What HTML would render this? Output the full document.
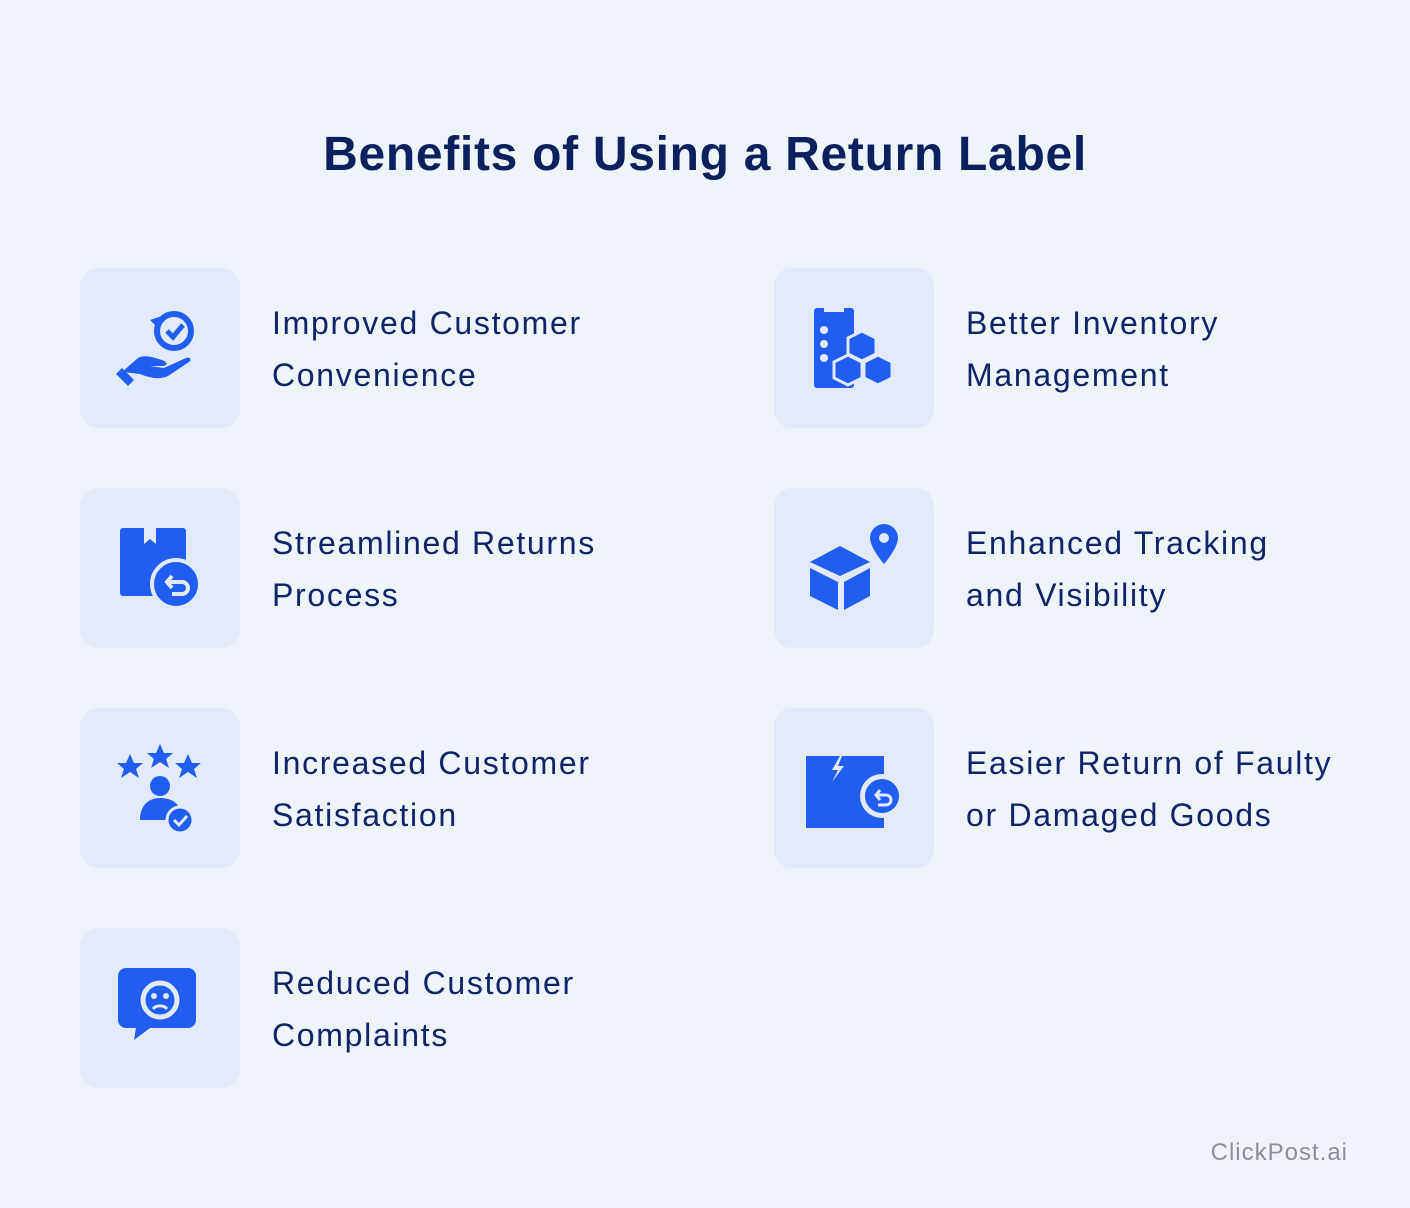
<!DOCTYPE html>
<html><head><style>
body{margin:0;width:1410px;height:1208px;background:#eff3fa;font-family:"Liberation Sans",sans-serif;position:relative;overflow:hidden}
h1{position:absolute;top:127px;left:0;width:1410px;text-align:center;margin:0;font-size:48px;font-weight:bold;color:#0c1f5e;letter-spacing:0.7px}
.card{position:absolute;width:160px;height:160px;border-radius:18px;background:#e2e9f8}
.card svg{position:absolute;left:30px;top:30px;width:100px;height:100px}
.t{position:absolute;font-size:32px;line-height:52px;color:#10246a;letter-spacing:1.7px}
.wm{position:absolute;right:62px;top:1139px;font-size:24px;color:#8a8f9c;letter-spacing:1px}
</style></head><body>
<h1>Benefits of Using a Return Label</h1>

<div class="card" style="left:80px;top:268px"><svg viewBox="0 0 100 100" fill="#1f5ef0">
<circle cx="64" cy="33" r="17" fill="none" stroke="#1f5ef0" stroke-width="6"/><path d="M40 22l12-4-4 12z"/><path d="M57 33l6 6 10-12" fill="none" stroke="#1f5ef0" stroke-width="5"/>
<path d="M12 74l16-14c8-4 16 0 24 2 6 2 6 6 0 6l-12 0 14 2 22-10c4-2 6 2 3 4L58 78c-8 4-18 2-28-2z"/><path d="M6 76l6-6 12 12-6 6z"/></svg></div>
<div class="t" style="left:272px;top:297px">Improved Customer<br>Convenience</div>

<div class="card" style="left:774px;top:268px"><svg viewBox="0 0 100 100" fill="#1f5ef0">
<rect x="10" y="10" width="40" height="80" rx="3"/><rect x="20" y="6" width="20" height="8" fill="#e2e9f8"/>
<circle cx="20" cy="32" r="4" fill="#e2e9f8"/><circle cx="20" cy="46" r="4" fill="#e2e9f8"/><circle cx="20" cy="60" r="4" fill="#e2e9f8"/>
<path d="M44 40l14-7 14 7v16l-14 7-14-7zM30 64l14-7 14 7v16l-14 7-14-7zM60 64l14-7 14 7v16l-14 7-14-7z" stroke="#e2e9f8" stroke-width="3"/></svg></div>
<div class="t" style="left:966px;top:297px">Better Inventory<br>Management</div>

<div class="card" style="left:80px;top:488px"><svg viewBox="0 0 100 100" fill="#1f5ef0">
<rect x="10" y="10" width="66" height="68" rx="3"/><path d="M34 10v16l6-5 6 5V10" fill="#e2e9f8"/>
<circle cx="66" cy="66" r="24" stroke="#e2e9f8" stroke-width="4"/><path d="M58 64h14a6 6 0 010 12h-10M62 58l-5 6 5 6" fill="none" stroke="#e2e9f8" stroke-width="4"/></svg></div>
<div class="t" style="left:272px;top:517px">Streamlined Returns<br>Process</div>

<div class="card" style="left:774px;top:488px"><svg viewBox="0 0 100 100" fill="#1f5ef0">
<path d="M6 44l30-16 30 16-30 14z"/><path d="M6 50l28 14v28L6 78z"/><path d="M40 64l26-14v28L40 92z"/>
<path d="M108 22a14 14 0 00-28 0c0 10 14 26 14 26s14-16 14-26z" transform="translate(-14 -2)"/><circle cx="80" cy="20" r="5" fill="#e2e9f8"/></svg></div>
<div class="t" style="left:966px;top:517px">Enhanced Tracking<br>and Visibility</div>

<div class="card" style="left:80px;top:708px"><svg viewBox="0 0 100 100" fill="#1f5ef0">
<polygon points="20,16 24,25 33,25 26,31 29,40 20,34 11,40 14,31 7,25 16,25"/>
<polygon points="50,6 54,15 63,15 56,21 59,30 50,24 41,30 44,21 37,15 46,15"/>
<polygon points="78,16 82,25 91,25 84,31 87,40 78,34 69,40 72,31 65,25 74,25"/>
<circle cx="50" cy="48" r="10"/><path d="M30 82c0-16 10-22 20-22s16 4 18 8v14z"/>
<circle cx="70" cy="82" r="13" stroke="#e2e9f8" stroke-width="3"/><path d="M64 82l5 5 8-9" fill="none" stroke="#e2e9f8" stroke-width="3"/></svg></div>
<div class="t" style="left:272px;top:737px">Increased Customer<br>Satisfaction</div>

<div class="card" style="left:774px;top:708px"><svg viewBox="0 0 100 100" fill="#1f5ef0">
<path d="M2 18h34l-8 14 6 0-6 12 12-16-6 0 4-10h42v72H2z"/>
<circle cx="78" cy="58" r="22" fill="#e2e9f8"/><circle cx="78" cy="58" r="17"/>
<path d="M73 57h9a5 5 0 010 10h-8M76 52l-4 5 4 5" fill="none" stroke="#e2e9f8" stroke-width="3"/></svg></div>
<div class="t" style="left:966px;top:737px">Easier Return of Faulty<br>or Damaged Goods</div>

<div class="card" style="left:80px;top:928px"><svg viewBox="0 0 100 100" fill="#1f5ef0">
<path d="M16 10h62a8 8 0 018 8v44a8 8 0 01-8 8H40l-16 12 2-12h-10a8 8 0 01-8-8V18a8 8 0 018-8z"/>
<circle cx="50" cy="42" r="17" fill="none" stroke="#e2e9f8" stroke-width="5"/>
<circle cx="44" cy="38" r="3" fill="#e2e9f8"/><circle cx="56" cy="38" r="3" fill="#e2e9f8"/>
<path d="M43 51a8 6 0 0114 0" fill="none" stroke="#e2e9f8" stroke-width="3"/></svg></div>
<div class="t" style="left:272px;top:957px">Reduced Customer<br>Complaints</div>

<div class="wm">ClickPost.ai</div>
</body></html>
